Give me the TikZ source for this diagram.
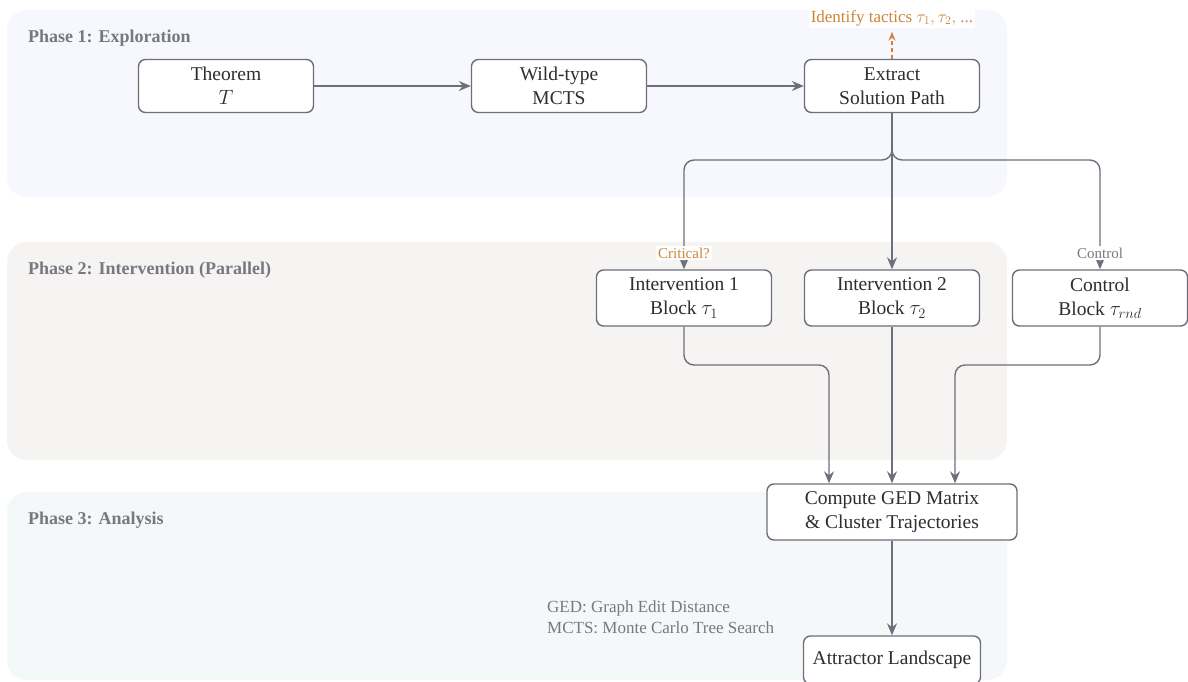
\documentclass[tikz,border=0pt]{standalone}
\usepackage{fontspec}
\setmainfont{Liberation Serif}
\usetikzlibrary{arrows.meta,calc}
\definecolor{linec}{RGB}{110,110,124}
\definecolor{textc}{RGB}{45,45,50}
\definecolor{phasec}{RGB}{120,120,128}
\definecolor{orangec}{RGB}{205,133,60}
\definecolor{pone}{RGB}{247,248,254}
\definecolor{ptwo}{RGB}{245,244,243}
\definecolor{pthree}{RGB}{245,248,248}
\begin{document}
\begin{tikzpicture}[x=1pt,y=-1pt,
  box/.style={draw=linec, line width=1.4pt, rounded corners=7pt, fill=white,
    minimum width=175pt, minimum height=53pt, align=center, inner sep=0pt,
    font=\fontsize{19.5}{24}\selectfont, text=textc},
  conn/.style={draw=linec, line width=1.4pt, rounded corners=10pt,
    -{Stealth[length=12pt,width=10pt,inset=4pt]}},
  phase/.style={anchor=west, inner sep=0pt, font=\fontsize{18}{20}\selectfont\bfseries, text=phasec},
  panel/.style={rounded corners=20pt},
  small/.style={fill=white, inner sep=2pt, font=\fontsize{15}{17}\selectfont}
]
\useasboundingbox (0,0) rectangle (1188,682);
% panels
\fill[pone,panel] (7,10) rectangle (1007,197);
\fill[ptwo,panel] (7,242) rectangle (1007,460);
\fill[pthree,panel] (7,492) rectangle (1007,680);
\node[phase] (ph1) at (28,38) {Phase 1: Exploration};
\node[phase] (ph2) at (28,270) {Phase 2: Intervention (Parallel)};
\node[phase] (ph3) at (28,520) {Phase 3: Analysis};
% nodes
\node[box] (thm) at (226,86) {Theorem\\$T$};
\node[box] (wild) at (559,86) {Wild-type\\MCTS};
\node[box] (ext) at (892,86) {Extract\\Solution Path};
\node[fill=white, inner sep=2pt, text=orangec, font=\fontsize{17}{19}\selectfont] (ident) at (892,18) {Identify tactics $\tau_1, \tau_2,$ ...};
\node[box, minimum height=56pt] (int1) at (684,298) {Intervention 1\\Block $\tau_1$};
\node[box, minimum height=56pt] (int2) at (892,298) {Intervention 2\\Block $\tau_2$};
\node[box, minimum height=56pt] (ctrl) at (1100,298) {Control\\Block $\tau_{rnd}$};
\node[box, minimum width=250pt, minimum height=56pt] (ged) at (892,512) {Compute GED Matrix\\\& Cluster Trajectories};
\node[box, minimum width=177pt, minimum height=48pt] (att) at (892,660) {Attractor Landscape};
% connectors
\coordinate (sp) at (892,160);
\coordinate (j1) at (829,365);
\coordinate (j3) at (955,365);
\draw[conn] (thm) -- (wild);
\draw[conn] (wild) -- (ext);
\draw[draw=orangec, line width=1.1pt, dash pattern=on 4pt off 3pt,
  -{Stealth[length=9pt,width=7pt,inset=3pt]}] (ext.north) -- ++(0,-27);
\draw[conn] (ext.south) -- (sp) -| (int1.north);
\draw[conn] (ext.south) -- (int2.north);
\draw[conn] (ext.south) -- (sp) -| (ctrl.north);
\draw[conn] (int1.south) |- (j1) -- (ged.north -| j1);
\draw[conn] (int2.south) -- (ged.north);
\draw[conn] (ctrl.south) |- (j3) -- (ged.north -| j3);
\draw[conn] (ged) -- (att);
% labels on connectors
\node[small, text=orangec] (crit) at (684,253) {Critical?};
\node[small, text=phasec] (ctl) at (1100,253) {Control};
% legend
\node[anchor=west, inner sep=0pt, align=left, text=phasec, font=\fontsize{17}{21}\selectfont] (leg) at (547,617) {GED: Graph Edit Distance\\MCTS: Monte Carlo Tree Search};
\end{tikzpicture}
\end{document}
